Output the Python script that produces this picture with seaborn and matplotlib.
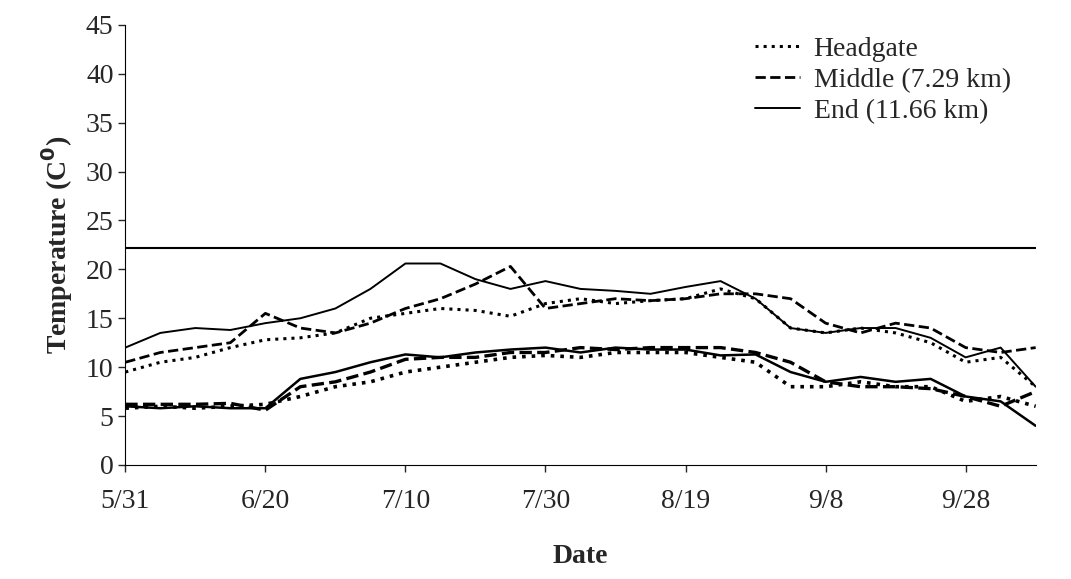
import numpy as np
import pandas as pd
import matplotlib
matplotlib.use("Agg")
import matplotlib.pyplot as plt
import seaborn as sns

# days since 5/31
days = [0, 5, 10, 15, 20, 25, 30, 35, 40, 45, 50, 55, 60, 65, 70, 75, 80, 85, 90, 95, 100, 105, 110, 115, 120, 125, 130]

head_max = [9.5, 10.5, 11, 12, 12.8, 13, 13.5, 15, 15.5, 16, 15.8, 15.2, 16.5, 17, 16.5, 16.8, 17, 18, 17, 14, 13.5, 14, 13.5, 12.5, 10.5, 11, 8]
mid_max = [10.5, 11.5, 12, 12.5, 15.5, 14, 13.5, 14.5, 16, 17, 18.5, 20.3, 16, 16.5, 17, 16.8, 17, 17.5, 17.5, 17, 14.5, 13.5, 14.5, 14, 12, 11.5, 12]
end_max = [12, 13.5, 14, 13.8, 14.5, 15, 16, 18, 20.6, 20.6, 19, 18, 18.8, 18, 17.8, 17.5, 18.2, 18.8, 17, 14, 13.5, 14, 14, 13, 11, 12, 8]

head_min = [5.8, 6, 5.8, 6, 6.2, 7, 8, 8.5, 9.5, 10, 10.5, 11, 11.2, 11, 11.5, 11.5, 11.5, 11, 10.5, 8, 8, 8.5, 8, 8, 6.5, 7, 6]
mid_min = [6.2, 6.2, 6.2, 6.3, 5.6, 8, 8.5, 9.5, 10.8, 11, 11, 11.5, 11.5, 12, 11.8, 12, 12, 12, 11.5, 10.5, 8.5, 8, 8, 7.8, 7, 6, 7.5]
end_min = [6, 5.8, 6, 5.8, 5.8, 8.8, 9.5, 10.5, 11.3, 11, 11.5, 11.8, 12, 11.5, 12, 11.8, 11.8, 11.2, 11.3, 9.5, 8.5, 9, 8.5, 8.8, 7, 6.5, 4]

threshold = 22.2
tick_days = [0, 20, 40, 60, 80, 100, 120]
tick_labels = ["5/31", "6/20", "7/10", "7/30", "8/19", "9/8", "9/28"]

sns.set_style("white")
plt.rcParams["font.family"] = ["Liberation Serif", "DejaVu Serif"]

fig, ax = plt.subplots(figsize=(10.71, 5.79), dpi=100)
fig.subplots_adjust(left=0.117, right=0.967, top=0.957, bottom=0.197)

styles = {"Headgate": (":", 2.2), "Middle (7.29 km)": ("--", 2.0), "End (11.66 km)": ("-", 1.4)}
series = {"Headgate": (head_max, head_min),
          "Middle (7.29 km)": (mid_max, mid_min),
          "End (11.66 km)": (end_max, end_min)}
for name, (hi, lo) in series.items():
    ls, lw = styles[name]
    sns.lineplot(x=days, y=hi, ax=ax, color="black", linestyle=ls, linewidth=lw, label=name)
    sns.lineplot(x=days, y=lo, ax=ax, color="black", linestyle=ls, linewidth=lw + 0.4)

ax.axhline(threshold, color="black", linewidth=1.5)

ax.set_xlim(0, 130)
ax.set_ylim(0, 45)
ax.set_yticks(range(0, 50, 5))
ax.set_xticks(tick_days)
ax.set_xticklabels(tick_labels)
ax.tick_params(axis="both", labelsize=20, direction="out", length=5, width=1, bottom=True, left=True)
ax.tick_params(axis="x", pad=12)
ax.set_xlabel("Date", fontsize=20, fontweight="bold", labelpad=22)
ax.set_ylabel("Temperature (C$^{\\mathbf{0}}$)", fontsize=20, fontweight="bold", labelpad=8)
for s in ["top", "right"]:
    ax.spines[s].set_visible(False)
for s in ["left", "bottom"]:
    ax.spines[s].set_color("black")

ax.legend(loc="upper right", frameon=False, fontsize=20, handlelength=1.6, handletextpad=0.5,
          bbox_to_anchor=(1.0, 1.03), labelspacing=0.2)

fig.savefig("out.png", dpi=100)
